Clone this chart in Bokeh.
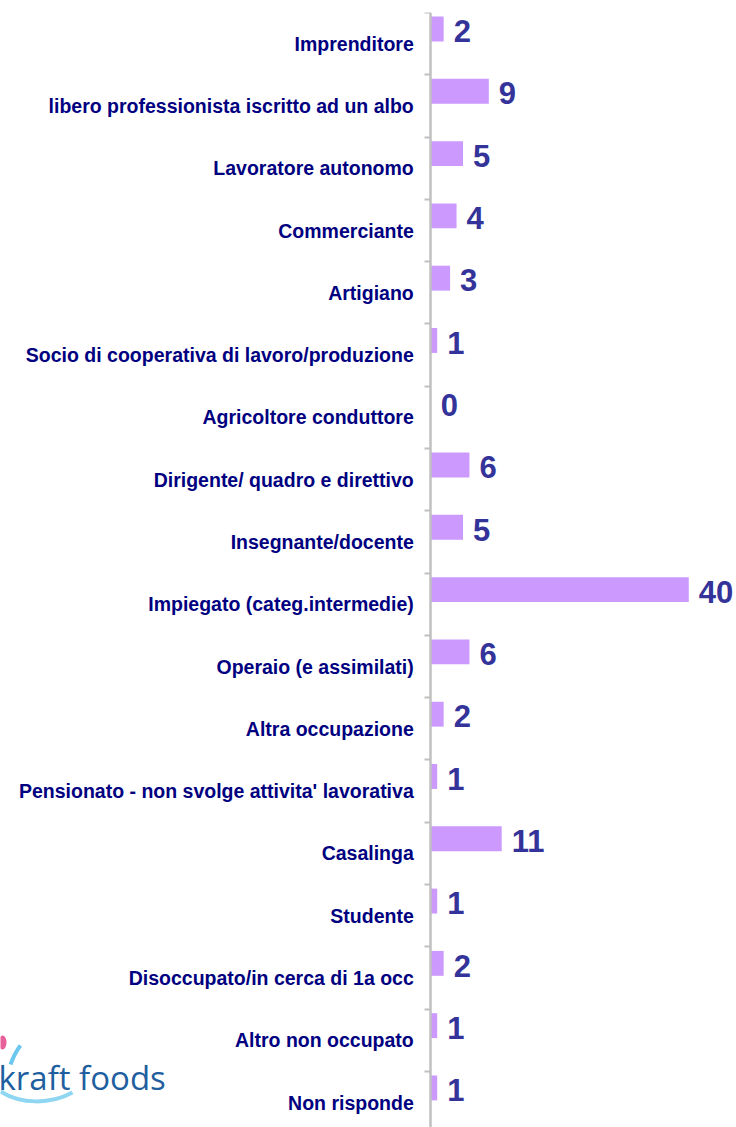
from bokeh.plotting import figure
from bokeh.models import Range1d, FixedTicker, ColumnDataSource, Label
from bokeh.core.properties import value
from bokeh.embed import file_html
from bokeh.resources import INLINE

categories = [
    "Imprenditore",
    "libero professionista iscritto ad un albo",
    "Lavoratore autonomo",
    "Commerciante",
    "Artigiano",
    "Socio di cooperativa di lavoro/produzione",
    "Agricoltore conduttore",
    "Dirigente/ quadro e direttivo",
    "Insegnante/docente",
    "Impiegato (categ.intermedie)",
    "Operaio (e assimilati)",
    "Altra occupazione",
    "Pensionato - non svolge attivita' lavorativa",
    "Casalinga",
    "Studente",
    "Disoccupato/in cerca di 1a occ",
    "Altro non occupato",
    "Non risponde",
]
values = [2, 9, 5, 4, 3, 1, 0, 6, 5, 40, 6, 2, 1, 11, 1, 2, 1, 1]

n = len(categories)
idx = list(range(n))
src = ColumnDataSource(dict(
    cat=categories,
    val=values,
    bar_y=[i + 0.265 for i in idx],
    lab_y=[i + 0.3 for i in idx],
    txt=[str(v) for v in values],
))

W, H = 736, 1127
X0, X1 = -66.7, 47.4
Y_TOP, Y_BOT = 0, 17.9
p = figure(width=W, height=H, output_backend="svg", toolbar_location=None,
           x_range=Range1d(X0, X1), y_range=Range1d(Y_BOT, Y_TOP),
           min_border_left=0, min_border_right=0, min_border_top=12, min_border_bottom=0)
p.outline_line_color = None
p.xgrid.visible = False
p.ygrid.visible = False
p.xaxis.visible = False

p.hbar(y="bar_y", height=0.4, left=0, right="val", source=src,
       fill_color="#CC99FF", line_color=None)
p.text(x="val", y="lab_y", text="txt", source=src, x_offset=10,
       text_font=value("Liberation Sans"), text_font_style="bold",
       text_font_size="31px", text_color="#333399",
       text_baseline="middle", text_align="left")

yax = p.yaxis[0]
yax.fixed_location = 0
yax.ticker = FixedTicker(ticks=[i + 0.5 for i in idx], minor_ticks=list(range(n + 1)))
yax.major_label_overrides = {i + 0.5: c for i, c in enumerate(categories)}
yax.major_tick_line_color = None
yax.major_tick_out = 0
yax.major_tick_in = 0
yax.minor_tick_line_color = "#C0C0C0"
yax.minor_tick_line_width = 2
yax.minor_tick_out = 6
yax.minor_tick_in = 0
yax.axis_line_color = "#C0C0C0"
yax.axis_line_width = 2.5
yax.major_label_standoff = 11
yax.major_label_text_font = "Liberation Sans"
yax.major_label_text_font_style = "bold"
yax.major_label_text_font_size = "19.5px"
yax.major_label_text_color = "#000080"

# logo (decoration), positioned in pixel terms converted to data units
frame_h = H - 12
def dx(px):
    return X0 + px * (X1 - X0) / W
def dy(py):
    return Y_TOP + (py - 12) * (Y_BOT - Y_TOP) / frame_h

p.bezier(x0=[dx(0)], y0=[dy(1091)], x1=[dx(72)], y1=[dy(1092)],
         cx0=[dx(20)], cy0=[dy(1104)], cx1=[dx(50)], cy1=[dy(1104)],
         line_color="#8ED6F2", line_width=4)
p.bezier(x0=[dx(10)], y0=[dy(1064)], x1=[dx(20)], y1=[dy(1045)],
         cx0=[dx(13)], cy0=[dy(1056)], cx1=[dx(16)], cy1=[dy(1050)],
         line_color="#6CC8EE", line_width=4)
p.ellipse(x=[dx(2)], y=[dy(1042)], width=(X1 - X0) * 8 / W, height=(Y_BOT - Y_TOP) * 14 / frame_h,
          fill_color="#E8609A", line_color=None)

logo = Label(x=dx(-2), y=dy(1077), text="kraft foods", text_font="Open Sans",
             text_font_size="33px", text_color="#1F5FA0", text_baseline="alphabetic")
p.add_layout(logo)

open("out.html", "w").write(file_html(p, INLINE))
